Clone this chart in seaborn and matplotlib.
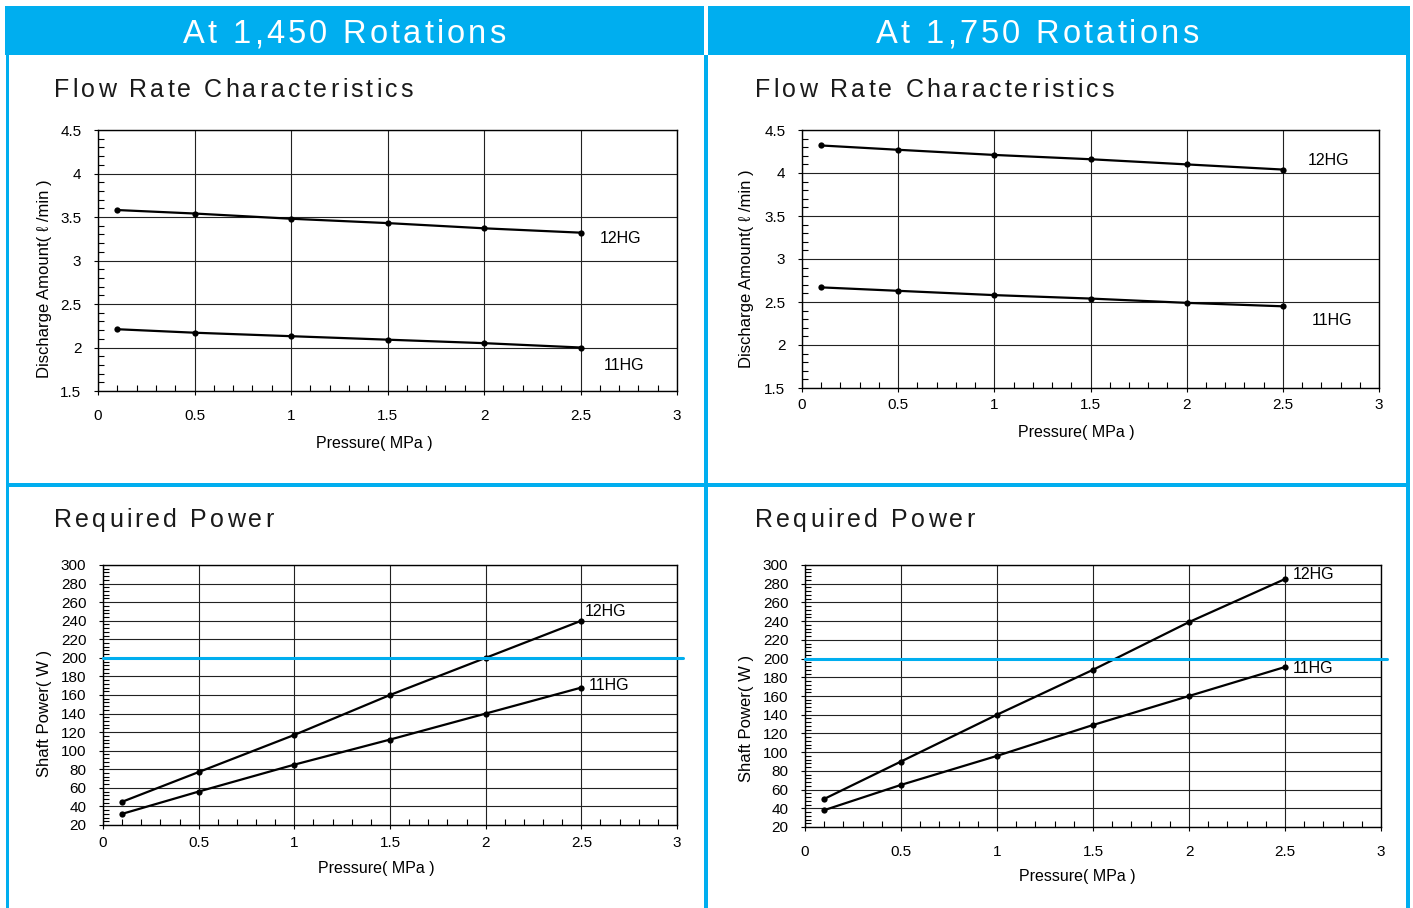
import matplotlib
matplotlib.use("Agg")
import numpy as np
import pandas as pd
import seaborn as sns
import matplotlib.pyplot as plt
from matplotlib.patches import Rectangle
from matplotlib.ticker import MultipleLocator, FuncFormatter
from matplotlib.font_manager import FontProperties

# data
pressure = [0.1, 0.5, 1.0, 1.5, 2.0, 2.5]
models = ["12HG", "11HG"]

flow_1450_12hg = [3.58, 3.54, 3.48, 3.43, 3.37, 3.32]
flow_1450_11hg = [2.21, 2.17, 2.13, 2.09, 2.05, 2.00]
flow_1750_12hg = [4.32, 4.27, 4.21, 4.16, 4.10, 4.04]
flow_1750_11hg = [2.67, 2.63, 2.58, 2.54, 2.49, 2.45]

power_1450_12hg = [45, 77, 117, 160, 200, 240]
power_1450_11hg = [32, 56, 85, 112, 140, 168]
power_1750_12hg = [50, 90, 140, 188, 239, 285]
power_1750_11hg = [38, 65, 96, 129, 160, 191]

headers = ["At 1,450 Rotations", "At 1,750 Rotations"]
flow_title = "Flow Rate Characteristics"
power_title = "Required Power"
flow_ylabel = "Discharge Amount( ℓ /min )"
power_ylabel = "Shaft Power( W )"
xlabel = "Pressure( MPa )"
power_limit = 200

W, H = 1413, 908
BLUE = "#00AEEF"
FONTS = ["Liberation Sans", "DejaVu Sans"]

sns.set_theme(style="white")
plt.rcParams["font.family"] = FONTS
plt.rcParams["axes.edgecolor"] = "black"

fig = plt.figure(figsize=(W / 100, H / 100), dpi=100)
fig.patch.set_facecolor("white")


def px_rect(x0, y0, x1, y1):
    # rectangle given in pixel coords from the top left
    fig.patches.append(Rectangle((x0 / W, 1 - y1 / H), (x1 - x0) / W, (y1 - y0) / H,
                                 transform=fig.transFigure, color=BLUE, lw=0, zorder=0))


def spaced_text(x_px, y_px, s, size, color, track):
    # matplotlib has no letter spacing, so place the characters one by one
    r = fig.canvas.get_renderer()
    prop = FontProperties(family=FONTS, size=size)
    base = r.get_text_width_height_descent("xx", prop, ismath=False)[0]
    x = x_px
    for ch in s:
        fig.text(x / W, 1 - y_px / H, ch, fontproperties=prop, color=color,
                 va="baseline", ha="left")
        x += r.get_text_width_height_descent("x" + ch + "x", prop, ismath=False)[0] - base + track


# blue frame
px_rect(5, 6, 704, 55)
px_rect(708, 6, 1410, 55)
px_rect(6, 55, 9, 908)
px_rect(704, 55, 708, 908)
px_rect(1406, 55, 1410, 908)
px_rect(6, 483, 1406, 487)

spaced_text(183, 43, headers[0], 23.5, "white", 3.2)
spaced_text(876, 43, headers[1], 23.5, "white", 3.2)
spaced_text(54, 97, flow_title, 18, "#1a1a1a", 3.1)
spaced_text(755, 97, flow_title, 18, "#1a1a1a", 3.1)
spaced_text(54, 527, power_title, 18, "#1a1a1a", 3.1)
spaced_text(755, 527, power_title, 18, "#1a1a1a", 3.1)

fmt = FuncFormatter(lambda v, p: "%g" % v)

# axes boxes in pixels: left, top, right, bottom; label offsets in pixels
panels = [
    dict(box=(98, 130, 677, 391), series=(flow_1450_12hg, flow_1450_11hg), kind="flow",
         xpad=10, xlab=(374, 443), ylab=(45, 279), lab_pos=[(2.6, 3.25), (2.62, 1.79)]),
    dict(box=(802, 130, 1379, 388), series=(flow_1750_12hg, flow_1750_11hg), kind="flow",
         xpad=4, xlab=(1076, 433), ylab=(747, 269), lab_pos=[(2.63, 4.14), (2.65, 2.28)]),
    dict(box=(103, 565, 677, 825), series=(power_1450_12hg, power_1450_11hg), kind="power",
         xpad=5, xlab=(376, 869), ylab=(45, 713), lab_pos=[(2.52, 250), (2.54, 170)]),
    dict(box=(805, 565, 1381, 827), series=(power_1750_12hg, power_1750_11hg), kind="power",
         xpad=10, xlab=(1077, 877), ylab=(747, 718), lab_pos=[(2.54, 290), (2.54, 189)]),
]

for p in panels:
    l, t, r, b = p["box"]
    ax = fig.add_axes([l / W, 1 - b / H, (r - l) / W, (b - t) / H])
    df = pd.DataFrame({
        "pressure": pressure * 2,
        "value": list(p["series"][0]) + list(p["series"][1]),
        "model": [models[0]] * 6 + [models[1]] * 6,
    })
    sns.lineplot(data=df, x="pressure", y="value", hue="model", palette=["black", "black"],
                 marker="o", markersize=4.5, markeredgewidth=0, linewidth=1.6,
                 legend=False, ax=ax, zorder=3)
    ax.set_xlim(0, 3)
    ax.xaxis.set_major_locator(MultipleLocator(0.5))
    ax.xaxis.set_minor_locator(MultipleLocator(0.1))
    if p["kind"] == "flow":
        ax.set_ylim(1.5, 4.5)
        ax.yaxis.set_major_locator(MultipleLocator(0.5))
        ax.yaxis.set_minor_locator(MultipleLocator(0.1))
        ylabel = flow_ylabel
    else:
        ax.set_ylim(20, 300)
        ax.yaxis.set_major_locator(MultipleLocator(20))
        ax.yaxis.set_minor_locator(MultipleLocator(4))
        ylabel = power_ylabel
        ax.plot([0, 3.03], [power_limit, power_limit], color=BLUE, lw=2.2,
                clip_on=False, zorder=4)
    ax.xaxis.set_major_formatter(fmt)
    ax.yaxis.set_major_formatter(fmt)
    ax.grid(True, which="major", color="#222222", lw=0.8)
    ax.tick_params(which="major", direction="out", length=3, width=0.8,
                   labelsize=11, colors="black", left=True, bottom=True)
    ax.tick_params(axis="x", which="major", pad=p["xpad"])
    ax.tick_params(axis="y", which="major", pad=9)
    ax.tick_params(which="minor", direction="in", length=4, width=0.8,
                   left=True, bottom=True, colors="black")
    for s in ax.spines.values():
        s.set_color("black")
        s.set_linewidth(1.0)
    ah = b - t
    aw = r - l
    ax.set_xlabel(xlabel, fontsize=11.5, color="black")
    ax.xaxis.set_label_coords((p["xlab"][0] - l) / aw, (b - p["xlab"][1]) / ah)
    ax.xaxis.label.set_va("center")
    ax.set_ylabel(ylabel, fontsize=12, color="black")
    ax.yaxis.set_label_coords((p["ylab"][0] - l) / aw, (b - p["ylab"][1]) / ah)
    ax.yaxis.label.set_va("center")
    for name, (lx, ly) in zip(models, p["lab_pos"]):
        ax.text(lx, ly, name, fontsize=11.5, color="black", ha="left", va="center", zorder=5)

fig.savefig("out.png", dpi=100)
